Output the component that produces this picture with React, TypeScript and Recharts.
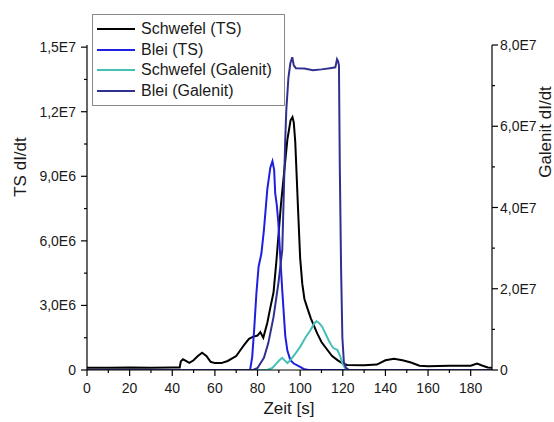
import { LineChart, Line, XAxis, YAxis } from 'recharts';

// Schwefel (TS), left axis, values in 1E6
const schwefelTsTime = [0, 10, 20, 30, 40, 43.5, 44, 45, 46, 48, 50, 52, 54, 56, 58, 60, 63, 66, 70, 72, 74, 76, 78, 80, 81.3, 82.7, 84.6, 86, 87.5, 88.8, 91, 94, 95.5, 96.4, 97, 97.7, 99, 100, 101, 102, 103.3, 105, 108, 110, 112.8, 115, 117.5, 120, 122, 130, 136, 140, 144, 148, 152, 156, 160, 170, 180, 183, 185, 188, 190];
const schwefelTsValue = [0.1, 0.1, 0.12, 0.1, 0.12, 0.12, 0.4, 0.5, 0.45, 0.33, 0.45, 0.65, 0.8, 0.65, 0.38, 0.32, 0.32, 0.42, 0.65, 0.93, 1.2, 1.45, 1.55, 1.6, 1.76, 1.5, 2.2, 2.9, 3.6, 5.0, 7.7, 10.7, 11.6, 11.75, 11.5, 10.6, 7.5, 5.2, 4.0, 3.3, 2.9, 2.4, 1.7, 1.3, 0.93, 0.65, 0.46, 0.3, 0.23, 0.22, 0.25, 0.45, 0.52, 0.45, 0.35, 0.2, 0.18, 0.2, 0.2, 0.3, 0.22, 0.12, 0.1];

// Blei (TS), left axis, values in 1E6
const bleiTsTime = [0, 76.5, 77.5, 78.5, 79.5, 80.5, 81.8, 83, 84.6, 86, 87, 87.8, 88.3, 89, 89.8, 90.7, 91.6, 93, 94, 95.4, 97, 100, 102, 104, 190];
const bleiTsValue = [0, 0, 0.6, 2.0, 3.6, 4.8, 5.4, 6.5, 8.4, 9.4, 9.7, 9.3, 8.2, 7.7, 6.8, 5.2, 3.7, 1.6, 0.9, 0.46, 0.3, 0.14, 0.03, 0, 0];

// Schwefel (Galenit), right axis, values in 1E7
const schwefelGalTime = [0, 84.6, 87, 89, 90.5, 91.6, 92.5, 94, 96, 98, 100, 102.5, 104.8, 106.5, 107.6, 109, 110.4, 112, 113.3, 114.5, 115.6, 117.5, 118.7, 119.8, 121, 122, 190];
const schwefelGalValue = [0, 0, 0.05, 0.17, 0.25, 0.3, 0.25, 0.17, 0.28, 0.42, 0.57, 0.8, 0.98, 1.14, 1.2, 1.15, 1.06, 0.88, 0.74, 0.62, 0.54, 0.49, 0.35, 0.17, 0.05, 0, 0];

// Blei (Galenit), right axis, values in 1E7
const bleiGalTime = [0, 78, 80, 83, 85, 87.5, 89.8, 91.6, 93, 93.5, 94.5, 95.4, 96.3, 97, 98, 102, 106, 110, 114, 116.5, 117.3, 117.8, 118.2, 118.6, 119.2, 119.8, 120.5, 121.5, 123, 190];
const bleiGalValue = [0, 0, 0.05, 0.3, 0.65, 1.3, 2.14, 2.95, 5.66, 6.4, 7.2, 7.55, 7.7, 7.5, 7.43, 7.42, 7.38, 7.4, 7.43, 7.45, 7.65, 7.6, 7.5, 5.0, 2.5, 0.8, 0.2, 0.05, 0, 0];

const xTicks = [0, 10, 20, 30, 40, 50, 60, 70, 80, 90, 100, 110, 120, 130, 140, 150, 160, 170, 180];
const tsTicks = [0, 1.5e6, 3e6, 4.5e6, 6e6, 7.5e6, 9e6, 10.5e6, 12e6, 13.5e6, 15e6];
const tsLabels: Record<number, string> = { 0: '0', 3e6: '3,0E6', 6e6: '6,0E6', 9e6: '9,0E6', 12e6: '1,2E7', 15e6: '1,5E7' };
const galTicks = [0, 1e7, 2e7, 3e7, 4e7, 5e7, 6e7, 7e7, 8e7];
const galLabels: Record<number, string> = { 0: '0', 2e7: '2,0E7', 4e7: '4,0E7', 6e7: '6,0E7', 8e7: '8,0E7' };

const build = (t: number[], v: number[], scale: number) => t.map((x, i) => ({ t: x, v: v[i] * scale }));

const series = [
  { name: 'Schwefel (TS)', color: '#000000', axis: 'ts', data: build(schwefelTsTime, schwefelTsValue, 1e6) },
  { name: 'Blei (TS)', color: '#1f1fe0', axis: 'ts', data: build(bleiTsTime, bleiTsValue, 1e6) },
  { name: 'Schwefel (Galenit)', color: '#45c0b4', axis: 'gal', data: build(schwefelGalTime, schwefelGalValue, 1e7) },
  { name: 'Blei (Galenit)', color: '#303090', axis: 'gal', data: build(bleiGalTime, bleiGalValue, 1e7) },
];

const font = "'Liberation Sans', Arial, sans-serif";
const textColor = '#1a1a1a';

function XTick({ x, y, payload }: any) {
  const major = payload.value % 20 === 0;
  return (
    <g>
      <line x1={x} x2={x} y1={y} y2={y + (major ? 6 : 3)} stroke="#000" strokeWidth={1.2} />
      {major && (
        <text x={x} y={y + 23} textAnchor="middle" fontSize={14} fontFamily={font} fill={textColor}>
          {payload.value}
        </text>
      )}
    </g>
  );
}

function LeftTick({ x, y, payload }: any) {
  const label = tsLabels[payload.value];
  return (
    <g>
      <line x1={x - (label ? 6 : 3)} x2={x} y1={y} y2={y} stroke="#000" strokeWidth={1.2} />
      {label && (
        <text x={x - 11} y={y + 5} textAnchor="end" fontSize={14} fontFamily={font} fill={textColor}>
          {label}
        </text>
      )}
    </g>
  );
}

function RightTick({ x, y, payload }: any) {
  const label = galLabels[payload.value];
  return (
    <g>
      <line x1={x} x2={x + (label ? 6 : 3)} y1={y} y2={y} stroke="#000" strokeWidth={1.2} />
      {label && (
        <text x={x + 8} y={y + 5} textAnchor="start" fontSize={14} fontFamily={font} fill={textColor}>
          {label}
        </text>
      )}
    </g>
  );
}

function AxisTitle({ px, py, rotate, text }: any) {
  return (
    <text
      x={px}
      y={py}
      textAnchor="middle"
      fontSize={17}
      fontFamily={font}
      fill={textColor}
      transform={rotate ? `rotate(-90 ${px} ${py})` : undefined}
    >
      {text}
    </text>
  );
}

function LegendBox() {
  return (
    <div
      style={{
        position: 'absolute',
        left: 92,
        top: 14,
        border: '1px solid #8a8a8a',
        background: '#fff',
        padding: '4px 12px 4px 4px',
        fontFamily: font,
        fontSize: 16,
        color: textColor,
      }}
    >
      {series.map((s) => (
        <div key={s.name} style={{ display: 'flex', alignItems: 'center', height: 20.5 }}>
          <span style={{ display: 'inline-block', width: 38, height: 2, background: s.color, marginRight: 6 }} />
          <span>{s.name}</span>
        </div>
      ))}
    </div>
  );
}

export default function App() {
  return (
    <div style={{ position: 'absolute', left: 0, top: 0, width: 554, height: 422, background: '#fff' }}>
      <LineChart width={554} height={422} margin={{ top: 45, right: 0, bottom: 0, left: 0 }}>
        <XAxis
          dataKey="t"
          type="number"
          domain={[0, 190]}
          ticks={xTicks}
          interval={0}
          allowDataOverflow
          height={52}
          tickSize={0}
          tickMargin={0}
          tickLine={false}
          axisLine={{ stroke: '#000', strokeWidth: 1.2 }}
          tick={<XTick />}
          label={<AxisTitle px={289} py={414} text="Zeit [s]" />}
        />
        <YAxis
          yAxisId="ts"
          orientation="left"
          type="number"
          domain={[0, 15.1e6]}
          ticks={tsTicks}
          interval={0}
          allowDataOverflow
          width={87}
          tickSize={0}
          tickMargin={0}
          tickLine={false}
          axisLine={{ stroke: '#000', strokeWidth: 1.2 }}
          tick={<LeftTick />}
          label={<AxisTitle px={26} py={167} rotate text="TS dI/dt" />}
        />
        <YAxis
          yAxisId="gal"
          orientation="right"
          type="number"
          domain={[0, 8e7]}
          ticks={galTicks}
          interval={0}
          allowDataOverflow
          width={62}
          tickSize={0}
          tickMargin={0}
          tickLine={false}
          axisLine={{ stroke: '#000', strokeWidth: 1.2 }}
          tick={<RightTick />}
          label={<AxisTitle px={551} py={132} rotate text="Galenit dI/dt" />}
        />
        {series.map((s) => (
          <Line
            key={s.name}
            yAxisId={s.axis}
            data={s.data}
            dataKey="v"
            name={s.name}
            type="linear"
            stroke={s.color}
            strokeWidth={2}
            dot={false}
            activeDot={false}
            isAnimationActive={false}
          />
        ))}
      </LineChart>
      <LegendBox />
    </div>
  );
}
